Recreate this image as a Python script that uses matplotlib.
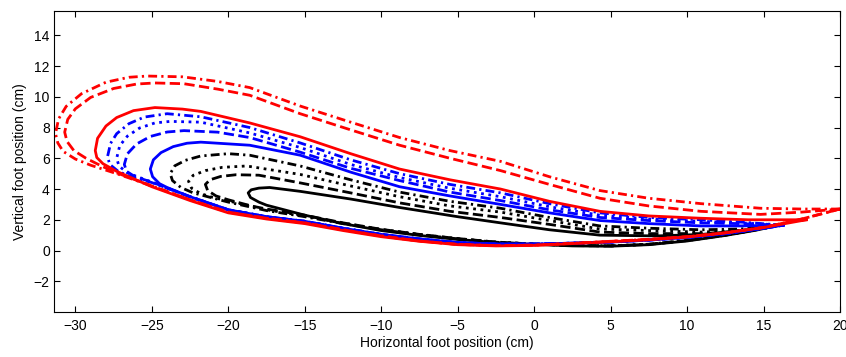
import matplotlib.pyplot as plt

plt.rcParams['font.family'] = ['Liberation Sans', 'DejaVu Sans']

# Foot trajectories (cm). Each loop: upper edge and lower edge, both left -> right.
# black loops
k_solid_top_x = [-18.7, -18.5, -18.0, -17.3, -15.3, -12.0, -8.8, -5.0, -2.2, 1.0, 4.3, 8.0, 11.0, 14.0, 15.8]
k_solid_top_y = [3.75, 3.95, 4.06, 4.1, 3.85, 3.35, 2.8, 2.2, 1.8, 1.35, 1.0, 0.95, 1.05, 1.35, 1.6]
k_solid_bot_x = [-18.7, -18.55, -18.0, -17.5, -15.0, -12.5, -10.0, -7.5, -5.0, -2.5, 0.0, 2.5, 5.0, 7.5, 10.0, 12.5, 14.5, 15.8]
k_solid_bot_y = [3.75, 3.45, 3.15, 2.95, 2.3, 1.75, 1.3, 0.98, 0.72, 0.52, 0.4, 0.3, 0.28, 0.38, 0.62, 0.98, 1.32, 1.6]

k_dash_top_x = [-21.5, -21.2, -20.5, -19.5, -18.0, -15.3, -12.0, -8.8, -5.5, -2.2, 1.0, 4.3, 7.5, 10.9, 13.5, 15.8]
k_dash_top_y = [4.3, 4.6, 4.82, 4.93, 4.9, 4.4, 3.75, 3.1, 2.55, 2.15, 1.7, 1.2, 1.1, 1.1, 1.25, 1.6]
k_dash_bot_x = [-21.5, -21.35, -20.8, -20.0, -18.5, -17.5, -15.0, -12.5, -10.0, -7.5, -5.0, -2.5, 0.0, 2.5, 5.0, 7.5, 10.0, 12.5, 14.5, 15.8]
k_dash_bot_y = [4.3, 3.9, 3.55, 3.3, 2.9, 2.7, 2.3, 1.8, 1.38, 1.05, 0.78, 0.55, 0.42, 0.32, 0.3, 0.4, 0.65, 1.0, 1.35, 1.6]

k_dot_top_x = [-22.6, -22.3, -21.5, -20.4, -18.8, -15.3, -12.0, -8.8, -5.5, -2.2, 1.0, 4.3, 7.5, 10.9, 13.5, 15.8]
k_dot_top_y = [4.5, 4.89, 5.2, 5.41, 5.5, 4.95, 4.2, 3.5, 2.9, 2.5, 1.95, 1.4, 1.3, 1.2, 1.3, 1.6]
k_dot_bot_x = [-22.6, -22.4, -21.8, -21.0, -19.0, -17.5, -15.0, -12.5, -10.0, -7.5, -5.0, -2.5, 0.0, 2.5, 5.0, 7.5, 10.0, 12.5, 14.5, 15.8]
k_dot_bot_y = [4.5, 4.05, 3.7, 3.45, 3.0, 2.65, 2.25, 1.78, 1.37, 1.04, 0.77, 0.55, 0.42, 0.33, 0.3, 0.4, 0.65, 1.0, 1.35, 1.6]

k_dd_top_x = [-23.8, -23.5, -22.8, -21.8, -20.0, -18.6, -15.3, -12.0, -8.8, -5.5, -2.2, 1.0, 4.3, 7.5, 10.9, 13.5, 15.8]
k_dd_top_y = [5.0, 5.51, 5.87, 6.15, 6.3, 6.2, 5.5, 4.6, 3.8, 3.2, 2.75, 2.15, 1.6, 1.45, 1.35, 1.4, 1.6]
k_dd_bot_x = [-23.8, -23.65, -23.1, -22.3, -20.0, -17.5, -15.0, -12.5, -10.0, -7.5, -5.0, -2.5, 0.0, 2.5, 5.0, 7.5, 10.0, 12.5, 14.5, 15.8]
k_dd_bot_y = [5.0, 4.55, 4.1, 3.75, 3.15, 2.6, 2.2, 1.75, 1.35, 1.03, 0.76, 0.54, 0.42, 0.33, 0.31, 0.41, 0.66, 1.0, 1.35, 1.6]

# blue loops
b_solid_top_x = [-25.1, -24.9, -24.4, -23.6, -22.7, -21.8, -18.6, -15.3, -12.0, -8.8, -5.5, -2.2, 1.0, 4.3, 7.5, 10.9, 13.5, 16.3]
b_solid_top_y = [5.3, 5.9, 6.37, 6.76, 6.98, 7.05, 6.85, 6.2, 5.1, 4.15, 3.55, 3.0, 2.45, 1.95, 1.75, 1.6, 1.6, 1.65]
b_solid_bot_x = [-25.1, -24.95, -24.5, -24.0, -22.5, -20.0, -17.5, -15.0, -12.5, -10.0, -7.5, -5.0, -2.5, 0.0, 2.5, 5.0, 7.5, 10.0, 12.5, 15.0, 16.3]
b_solid_bot_y = [5.3, 4.8, 4.35, 4.1, 3.5, 2.65, 2.2, 1.9, 1.45, 1.05, 0.75, 0.52, 0.42, 0.42, 0.48, 0.55, 0.68, 0.85, 1.1, 1.45, 1.65]

b_dash_top_x = [-26.8, -26.6, -26.0, -25.1, -24.0, -22.9, -20.7, -18.6, -15.3, -12.0, -8.8, -5.5, -2.2, 1.0, 4.3, 7.5, 10.9, 13.5, 16.3]
b_dash_top_y = [5.6, 6.29, 6.93, 7.42, 7.71, 7.8, 7.7, 7.35, 6.4, 5.35, 4.55, 3.8, 3.25, 2.65, 2.15, 1.95, 1.8, 1.75, 1.65]
b_dash_bot_x = [-26.8, -26.65, -26.1, -25.0, -22.5, -20.0, -17.5, -15.0, -12.5, -10.0, -7.5, -5.0, -2.5, 0.0, 2.5, 5.0, 7.5, 10.0, 12.5, 15.0, 16.3]
b_dash_bot_y = [5.6, 5.15, 4.8, 4.45, 3.5, 2.65, 2.2, 1.9, 1.45, 1.05, 0.75, 0.52, 0.42, 0.42, 0.48, 0.55, 0.68, 0.85, 1.1, 1.45, 1.65]

b_dot_top_x = [-27.3, -27.1, -26.6, -25.8, -24.8, -23.8, -21.8, -18.6, -15.3, -12.0, -8.8, -5.5, -2.2, 1.0, 4.3, 7.5, 10.9, 13.5, 16.3]
b_dot_top_y = [6.0, 6.82, 7.44, 7.97, 8.3, 8.4, 8.35, 7.65, 6.7, 5.6, 4.75, 4.05, 3.5, 2.85, 2.3, 2.05, 1.9, 1.8, 1.65]
b_dot_bot_x = [-27.3, -27.15, -26.6, -25.8, -25.0, -22.5, -20.0, -17.5, -15.0, -12.5, -10.0, -7.5, -5.0, -2.5, 0.0, 2.5, 5.0, 7.5, 10.0, 12.5, 15.0, 16.3]
b_dot_bot_y = [6.0, 5.5, 5.05, 4.75, 4.45, 3.5, 2.65, 2.2, 1.9, 1.45, 1.05, 0.75, 0.52, 0.42, 0.42, 0.48, 0.55, 0.68, 0.85, 1.1, 1.45, 1.65]

b_dd_top_x = [-27.9, -27.7, -27.3, -26.5, -25.5, -24.0, -21.8, -18.6, -15.3, -12.0, -8.8, -5.5, -2.2, 1.0, 4.3, 7.5, 10.9, 13.5, 16.3]
b_dd_top_y = [6.1, 6.97, 7.6, 8.25, 8.68, 8.9, 8.7, 8.0, 7.0, 5.9, 5.0, 4.3, 3.75, 3.05, 2.45, 2.15, 2.0, 1.85, 1.65]
b_dd_bot_x = [-27.9, -27.75, -27.2, -26.5, -25.0, -22.5, -20.0, -17.5, -15.0, -12.5, -10.0, -7.5, -5.0, -2.5, 0.0, 2.5, 5.0, 7.5, 10.0, 12.5, 15.0, 16.3]
b_dd_bot_y = [6.1, 5.6, 5.15, 4.85, 4.42, 3.5, 2.65, 2.2, 1.9, 1.45, 1.05, 0.75, 0.52, 0.42, 0.42, 0.48, 0.55, 0.68, 0.85, 1.1, 1.45, 1.65]

# red loops
r_solid_top_x = [-28.7, -28.55, -28.0, -27.3, -26.2, -24.8, -23.0, -21.8, -18.6, -15.3, -12.0, -8.8, -5.5, -2.2, 1.0, 4.3, 7.5, 10.9, 14.0, 17.8]
r_solid_top_y = [6.5, 7.3, 8.1, 8.65, 9.1, 9.3, 9.2, 9.05, 8.3, 7.4, 6.3, 5.3, 4.6, 4.0, 3.2, 2.55, 2.25, 2.1, 2.0, 2.0]
r_solid_bot_x = [-28.7, -28.6, -28.2, -27.3, -25.0, -22.5, -20.0, -17.5, -15.0, -12.5, -10.0, -7.5, -5.0, -2.5, 0.0, 2.5, 5.0, 7.5, 10.0, 12.5, 15.0, 17.8]
r_solid_bot_y = [6.5, 6.05, 5.65, 5.15, 4.15, 3.25, 2.45, 2.05, 1.75, 1.3, 0.9, 0.6, 0.38, 0.3, 0.33, 0.45, 0.57, 0.7, 0.88, 1.15, 1.5, 2.0]

r_dash_top_x = [-30.7, -30.5, -30.0, -29.0, -27.5, -26.0, -24.8, -22.9, -20.7, -18.6, -15.3, -12.0, -8.8, -5.5, -2.2, 1.0, 4.3, 7.5, 10.9, 14.8, 17.5, 20.0]
r_dash_top_y = [7.7, 8.53, 9.22, 9.96, 10.54, 10.83, 10.9, 10.85, 10.5, 10.1, 8.9, 7.85, 6.85, 6.0, 5.2, 4.3, 3.4, 2.9, 2.55, 2.35, 2.5, 2.7]
r_dash_bot_x = [-30.7, -30.55, -30.1, -29.3, -28.3, -27.3, -25.0, -22.5, -20.0, -17.5, -15.0, -12.5, -10.0, -7.5, -5.0, -2.5, 0.0, 2.5, 5.0, 7.5, 10.0, 12.5, 15.0, 17.5, 20.0]
r_dash_bot_y = [7.7, 7.1, 6.5, 6.0, 5.5, 5.05, 4.2, 3.3, 2.5, 2.1, 1.8, 1.35, 0.95, 0.62, 0.4, 0.32, 0.35, 0.47, 0.6, 0.73, 0.9, 1.15, 1.5, 2.05, 2.7]

r_dd_top_x = [-31.3, -31.1, -30.6, -29.6, -28.0, -26.5, -25.3, -23.0, -20.7, -18.6, -15.3, -12.0, -8.8, -5.5, -2.2, 1.0, 4.3, 7.5, 10.9, 14.8, 17.5, 20.0]
r_dd_top_y = [7.6, 8.56, 9.38, 10.2, 10.95, 11.27, 11.35, 11.3, 11.0, 10.6, 9.4, 8.35, 7.35, 6.5, 5.8, 4.8, 3.9, 3.4, 3.05, 2.75, 2.7, 2.7]
r_dd_bot_x = [-31.3, -31.15, -30.8, -30.0, -29.0, -27.3, -25.0, -22.5, -20.0, -17.5, -15.0, -12.5, -10.0, -7.5, -5.0, -2.5, 0.0, 2.5, 5.0, 7.5, 10.0, 12.5, 15.0, 17.5, 20.0]
r_dd_bot_y = [7.6, 7.0, 6.45, 5.95, 5.55, 5.0, 4.2, 3.3, 2.5, 2.1, 1.8, 1.35, 0.95, 0.62, 0.4, 0.32, 0.35, 0.47, 0.6, 0.73, 0.9, 1.15, 1.5, 2.05, 2.7]

x_ticks = list(range(-30, 21, 5))
y_ticks = list(range(-2, 15, 2))

DASHDOT = (0, (3.2, 1.5, 0.8, 1.5))

loops = [
    (k_solid_top_x, k_solid_top_y, k_solid_bot_x, k_solid_bot_y, 'k', '-'),
    (k_dash_top_x, k_dash_top_y, k_dash_bot_x, k_dash_bot_y, 'k', '--'),
    (k_dot_top_x, k_dot_top_y, k_dot_bot_x, k_dot_bot_y, 'k', ':'),
    (k_dd_top_x, k_dd_top_y, k_dd_bot_x, k_dd_bot_y, 'k', DASHDOT),
    (b_solid_top_x, b_solid_top_y, b_solid_bot_x, b_solid_bot_y, '#0000ff', '-'),
    (b_dash_top_x, b_dash_top_y, b_dash_bot_x, b_dash_bot_y, '#0000ff', '--'),
    (b_dot_top_x, b_dot_top_y, b_dot_bot_x, b_dot_bot_y, '#0000ff', ':'),
    (b_dd_top_x, b_dd_top_y, b_dd_bot_x, b_dd_bot_y, '#0000ff', DASHDOT),
    (r_solid_top_x, r_solid_top_y, r_solid_bot_x, r_solid_bot_y, '#ff0000', '-'),
    (r_dash_top_x, r_dash_top_y, r_dash_bot_x, r_dash_bot_y, '#ff0000', '--'),
    (r_dd_top_x, r_dd_top_y, r_dd_bot_x, r_dd_bot_y, '#ff0000', DASHDOT),
]

fig = plt.figure(figsize=(8.46, 3.57), dpi=100)
ax = fig.add_axes([0.0638, 0.126, 0.9291, 0.844])

for tx, ty, bx, by, col, ls in loops:
    # go along the upper edge from the tip to the heel, then back along the lower edge
    xs = tx[::-1] + bx[1:]
    ys = ty[::-1] + by[1:]
    ax.plot(xs, ys, color=col, linestyle=ls, linewidth=2.0,
            solid_joinstyle='round', dash_joinstyle='round')

ax.set_xlim(-31.4, 20)
ax.set_ylim(-4, 15.6)
ax.set_xticks(x_ticks)
ax.set_yticks(y_ticks)
ax.tick_params(direction='in', top=True, right=True, length=4, width=0.8,
               labelsize=10, pad=5)
ax.tick_params(axis='y', pad=3)
for s in ax.spines.values():
    s.set_linewidth(0.8)

ax.set_xlabel('Horizontal foot position (cm)', fontsize=10, labelpad=2)
ax.set_ylabel('Vertical foot position (cm)', fontsize=10, labelpad=5)

fig.savefig('out.png', dpi=100)
